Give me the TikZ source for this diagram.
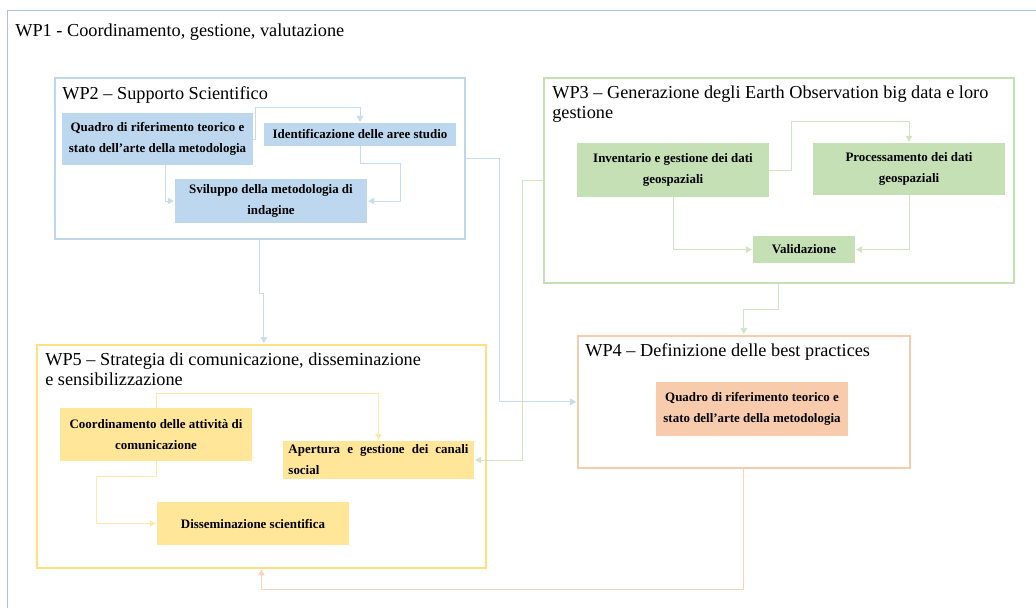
\documentclass[tikz,border=0pt]{standalone}
\usepackage{fontspec}
\setmainfont{Liberation Serif}
\usetikzlibrary{arrows.meta,positioning,calc}

\definecolor{wponeline}{HTML}{A9C1E8}
\definecolor{bluefill}{HTML}{BDD7EE}
\definecolor{blueline}{HTML}{C6DCF0}
\definecolor{greenfill}{HTML}{C5E0B4}
\definecolor{greenline}{HTML}{CFE6C1}
\definecolor{yellowfill}{HTML}{FFE699}
\definecolor{yellowframe}{HTML}{FFDF80}
\definecolor{yellowline}{HTML}{FFE9A8}
\definecolor{orangefill}{HTML}{F8CBAD}
\definecolor{orangeline}{HTML}{F9D3BA}

\begin{document}
\begin{tikzpicture}[x=0.025cm, y=-0.025cm,
        wpbox/.style={draw, line width=1.1pt, anchor=north west, inner sep=0pt},
        wptitle/.style={anchor=north west, inner sep=0pt, align=left, font=\fontsize{13}{14.5}\selectfont},
        task/.style={align=center, inner sep=0pt, minimum width=4.8cm, font=\bfseries\fontsize{9.2}{15}\selectfont},
        bluetask/.style={task, fill=bluefill},
        greentask/.style={task, fill=greenfill},
        yellowtask/.style={task, fill=yellowfill},
        orangetask/.style={task, fill=orangefill},
        arrow/.style={-{Triangle[length=1.5mm,width=1.6mm]}, line width=0.7pt, shorten >=0.6pt}
    ]
        \path[use as bounding box] (0,0) rectangle (1036,607);
        \clip (0,0) rectangle (1036,607);

        % work packages
        \node[wpbox, draw=wponeline, line width=0.9pt, minimum width=27cm, minimum height=16cm] (wp1) at (7,10) {};
        \node[wptitle] (wp1title) at (15,23.5) {WP1 - Coordinamento, gestione, valutazione};

        \node[wpbox, draw=bluefill, minimum width=10.25cm, minimum height=4.025cm] (wp2) at (54,77) {};
        \node[wptitle] (wp2title) at (62,86.5) {WP2 – Supporto Scientifico};

        \node[wpbox, draw=greenfill, minimum width=11.75cm, minimum height=5.125cm] (wp3) at (543,77) {};
        \node[wptitle] (wp3title) at (552,85.5) {WP3 – Generazione degli Earth Observation big data e loro\\gestione};

        \node[wpbox, draw=orangefill, minimum width=8.3cm, minimum height=3.3cm] (wp4) at (577,335) {};
        \node[wptitle] (wp4title) at (585,343.5) {WP4 – Definizione delle best practices};

        \node[wpbox, draw=yellowframe, minimum width=11.225cm, minimum height=5.575cm] (wp5) at (36,344) {};
        \node[wptitle] (wp5title) at (45,352.5) {WP5 – Strategia di comunicazione, disseminazione\\e sensibilizzazione};

        % WP2
        \node[bluetask, minimum width=4.775cm, minimum height=1.3cm] (quadro) at (157.5,139) {Quadro di riferimento teorico e\\stato dell’arte della metodologia};
        \node[bluetask, minimum height=0.575cm] (ident) at (360,134.5) {Identificazione delle aree studio};
        \node[bluetask, minimum height=1.1cm] (svil) at (271,201) {Sviluppo della metodologia di\\indagine};

        % WP3
        \node[greentask, minimum height=1.35cm] (inv) at (673,170) {Inventario e gestione dei dati\\geospaziali};
        \node[greentask, minimum height=1.3cm] (proc) at (909,169) {Processamento dei dati\\geospaziali};
        \node[greentask, minimum width=2.55cm, minimum height=0.675cm] (valid) at (804,249.5) {Validazione};

        % WP4
        \node[orangetask, minimum height=1.35cm] (bestp) at (752,409) {Quadro di riferimento teorico e\\stato dell’arte della metodologia};

        % WP5
        \node[yellowtask, minimum height=1.325cm] (coord) at (156,434.5) {Coordinamento delle attività di\\comunicazione};
        \node[yellowtask, minimum width=4.775cm, minimum height=0.95cm, text width=4.5cm, align=left] (aper) at (378.5,460) {\hbox to 4.5cm{Apertura\hfill e\hfill gestione\hfill dei\hfill canali}\\social};
        \node[yellowtask, minimum height=1.075cm] (diss) at (253,523.5) {Disseminazione scientifica};

        % links inside the work packages
        \draw[arrow, blueline] (quadro.east) -| ++(2,-32) -| (ident.north);
        \draw[arrow, blueline] ($(quadro.south)+(8,0)$) |- (svil.west);
        \draw[arrow, blueline] (ident.south) |- ++(40,17) |- (svil.east);

        \draw[arrow, greenline] (inv.east) -| ++(22,-49) -| (proc.north);
        \draw[arrow, greenline] (inv.south) |- (valid.west);
        \draw[arrow, greenline] (proc.south) |- (valid.east);

        \draw[arrow, yellowline] (coord.north) -- ++(0,-14) -| (aper.north);
        \draw[arrow, yellowline] (coord.south) |- ++(-60,15) |- (diss.west);

        % links between the work packages
        \draw[arrow, blueline] (wp2.south) -- ++(0,54) -| ($(wp5.north)+(2.5,0)$);
        \draw[arrow, blueline] (wp2.east) -- ++(34,0) |- (wp4.west);
        \draw[arrow, greenline] (wp3.west) -- ++(-21,0) |- (aper.east);
        \draw[arrow, greenline] (wp3.south) -- ++(0,26) -| (wp4.north);
        \draw[arrow, orangeline] (wp4.south) -- ++(0,121) -| (wp5.south);
    \end{tikzpicture}
\end{document}
